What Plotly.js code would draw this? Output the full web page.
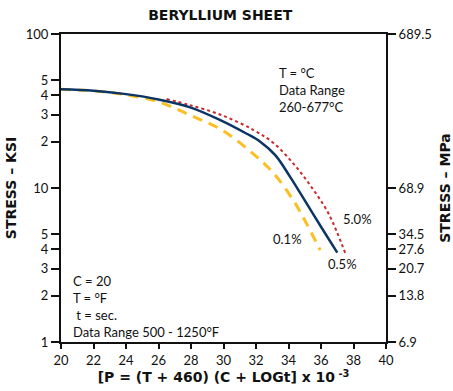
<!DOCTYPE html>
<html>
<head>
<meta charset="utf-8">
<script src="https://cdn.plot.ly/plotly-3.0.1.min.js"></script>
<style>html,body{margin:0;padding:0;background:#fff;}#chart{width:453px;height:391px;}</style>
</head>
<body>
<div id="chart"></div>
<script>
// Larson-Miller parameter values and stress (ksi) for each creep strain curve
var p05 = [20, 22, 24, 26, 27.95, 29.9, 31.4, 32.26, 33.2, 34.1, 35.0, 36.0, 37.0];
var s05 = [43.7, 42.8, 40.7, 37.6, 33.4, 27.3, 22.6, 20.0, 16.3, 11.8, 8.3, 5.6, 3.8];

var p50 = [26.5, 27.95, 29.9, 31.85, 33.1, 34.3, 35.34, 36.47, 37.5];
var s50 = [37.8, 34.5, 29.7, 23.8, 19.5, 14.4, 10.4, 6.8, 3.75];

var p01 = [20, 22, 24, 26, 27.95, 29.9, 31.85, 33.1, 34.3, 35.1, 35.95];
var s01 = [43.7, 42.8, 40.3, 36.3, 29.7, 23.8, 16.6, 12.4, 8.3, 5.9, 3.95];

var xTicks = [20, 22, 24, 26, 28, 30, 32, 34, 36, 38, 40];
var ksiTickVals = [1, 2, 3, 4, 5, 10, 20, 30, 40, 50, 100];
var ksiTickText = ["1", "2", "3", "4", "5", "10", "2", "3", "4", "5", "100"];
var mpaTickVals = [1, 2, 3, 4, 5, 10, 100];
var mpaTickText = ["6.9", "13.8", "20.7", "27.6", "34.5", "68.9", "689.5"];

var tickFont = {family: "Lato, 'Open Sans', sans-serif", size: 13, color: "#111"};
var titleFont = {family: "'DejaVu Sans', sans-serif", size: 14, color: "#111"};

var traces = [
  {x: p01, y: s01, mode: "lines", line: {color: "#fbbf24", width: 3, dash: "10px,7px", shape: "spline"}, hoverinfo: "skip", showlegend: false},
  {x: p50, y: s50, mode: "lines", line: {color: "#c8292b", width: 2, dash: "dot", shape: "spline"}, hoverinfo: "skip", showlegend: false},
  {x: p05, y: s05, mode: "lines", line: {color: "#0b3564", width: 2.5, shape: "spline"}, hoverinfo: "skip", showlegend: false},
  {x: [xTicks[0]], y: [mpaTickVals[0]], yaxis: "y2", mode: "lines", line: {width: 0}, hoverinfo: "skip", showlegend: false}
];

var annFont = {family: "Lato, 'Open Sans', sans-serif", size: 13, color: "#111"};
var layout = {
  width: 453, height: 391,
  margin: {l: 61, r: 67, t: 34, b: 49},
  paper_bgcolor: "#fff", plot_bgcolor: "#fff",
  title: {text: "<b>BERYLLIUM SHEET</b>", font: titleFont, x: 0.49, xref: "paper", y: 0.962, yref: "container", yanchor: "middle"},
  xaxis: {
    range: [20, 40], tickvals: xTicks, ticks: "outside", ticklen: 5, tickwidth: 2, tickcolor: "#111",
    showline: true, linewidth: 2, linecolor: "#111", mirror: true, showgrid: false, zeroline: false,
    tickfont: tickFont,
    title: {text: "<b>[P = (T + 460) (C + LOGt] x 10<sup> -3</sup></b>", font: {family: "'DejaVu Sans', sans-serif", size: 14, color: "#111"}, standoff: 6}
  },
  yaxis: {
    type: "log", range: [0, 2], tickvals: ksiTickVals, ticktext: ksiTickText,
    ticks: "outside", ticklen: 8, tickwidth: 2, tickcolor: "#111",
    showline: true, linewidth: 2, linecolor: "#111", showgrid: false, zeroline: false,
    tickfont: tickFont,
    title: {text: "<b>STRESS – KSI</b>", font: titleFont, standoff: 6}
  },
  yaxis2: {
    type: "log", range: [0, 2], overlaying: "y", side: "right", tickvals: mpaTickVals, ticktext: mpaTickText,
    ticks: "outside", ticklen: 8, tickwidth: 2, tickcolor: "#111",
    showline: true, linewidth: 2, linecolor: "#111", showgrid: false, zeroline: false,
    tickfont: tickFont,
    title: {text: "<b>STRESS – MPa</b>", font: titleFont, standoff: 16}
  },
  annotations: [
    {xref: "x", yref: "y", x: 33.3, y: 1.81, xanchor: "left", yanchor: "top", align: "left", showarrow: false, font: annFont,
     text: "T = °C<br>Data Range<br>260-677°C"},
    {xref: "x", yref: "y", x: 20.6, y: 0.46, xanchor: "left", yanchor: "top", align: "left", showarrow: false, font: annFont,
     text: "C = 20<br>T = °F<br> t = sec.<br>Data Range 500 - 1250°F"},
    {xref: "x", yref: "y", x: 37.25, y: 0.80, xanchor: "left", yanchor: "middle", showarrow: false, font: annFont, text: "5.0%"},
    {xref: "x", yref: "y", x: 32.94, y: 0.67, xanchor: "left", yanchor: "middle", showarrow: false, font: annFont, text: "0.1%"},
    {xref: "x", yref: "y", x: 36.33, y: 0.507, xanchor: "left", yanchor: "middle", showarrow: false, font: annFont, text: "0.5%"}
  ]
};

Plotly.newPlot("chart", traces, layout, {displayModeBar: false, staticPlot: true});
</script>
</body>
</html>
